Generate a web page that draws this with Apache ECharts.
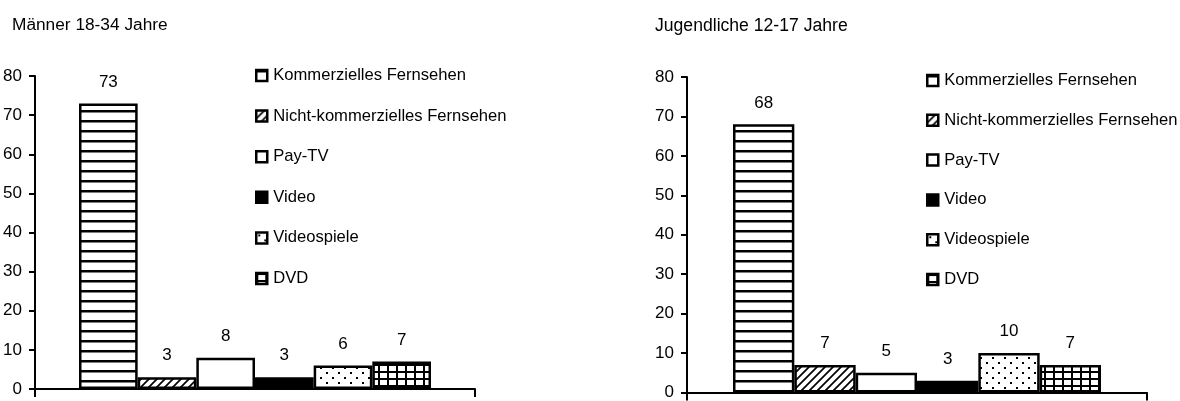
<!DOCTYPE html>
<html>
<head>
<meta charset="utf-8">
<script src="https://cdn.jsdelivr.net/npm/echarts@6/dist/echarts.min.js"></script>
<style>
html,body{margin:0;padding:0;background:#fff;}
#chart{width:1180px;height:401px;}
</style>
</head>
<body>
<div id="chart"></div>
<script>
const categories = ['Kommerzielles Fernsehen','Nicht-kommerzielles Fernsehen','Pay-TV','Video','Videospiele','DVD'];
const menValues = [73, 3, 8, 3, 6, 7];
const teenValues = [68, 7, 5, 3, 10, 7];
const titles = ['Männer 18-34 Jahre', 'Jugendliche 12-17 Jahre'];
const yTicks = [0, 10, 20, 30, 40, 50, 60, 70, 80];

const FONT = '"Liberation Sans", Arial, sans-serif';

function tile(w, h, draw) {
  const c = document.createElement('canvas');
  c.width = w; c.height = h;
  const g = c.getContext('2d');
  g.fillStyle = '#fff'; g.fillRect(0, 0, w, h);
  g.fillStyle = '#000'; g.strokeStyle = '#000';
  draw(g, w, h);
  return { image: c, repeat: 'repeat' };
}
const fills = [
  tile(10, 10, g => { g.fillRect(0, 0, 10, 2.5); }),
  tile(8, 8, g => {
    g.lineWidth = 1.7;
    g.beginPath();
    g.moveTo(-2, 10); g.lineTo(10, -2);
    g.moveTo(-2, 2); g.lineTo(2, -2);
    g.moveTo(6, 10); g.lineTo(10, 6);
    g.stroke();
  }),
  '#ffffff',
  '#000000',
  tile(12, 10, g => { g.fillRect(2, 2, 2, 2); g.fillRect(8, 7, 2, 2); }),
  tile(9, 7, g => { g.fillRect(0, 0, 9, 2); g.fillRect(0, 0, 2, 7); })
];

function makeSeries(values, idx) {
  return categories.map((name, i) => ({
    name: name,
    type: 'bar',
    xAxisIndex: idx,
    yAxisIndex: idx,
    barGap: '0%',
    barCategoryGap: '20%',
    data: [values[i]],
    itemStyle: { color: fills[i], borderColor: '#000', borderWidth: 2.5 },
    label: { show: true, position: 'top', distance: 13, color: '#000', fontSize: 17, fontFamily: FONT },
    emphasis: { disabled: true }
  }));
}

function yAxis(idx) {
  return {
    type: 'value', gridIndex: idx, min: 0, max: 80, interval: 10,
    axisLine: { show: true, lineStyle: { color: '#000', width: 2 } },
    axisTick: { show: true, inside: false, length: 6, lineStyle: { color: '#000', width: 2 } },
    splitLine: { show: false },
    axisLabel: { color: '#000', fontSize: 17, fontFamily: FONT, margin: 13,
      customValues: yTicks }
  };
}
function xAxis(idx, off) {
  return {
    type: 'category', gridIndex: idx, data: [''], offset: off,
    axisLine: { show: true, lineStyle: { color: '#000', width: 2 } },
    axisTick: { show: true, length: 8, lineStyle: { color: '#000', width: 2 } },
    axisLabel: { show: false }
  };
}
function legend(left, top, gap) {
  return {
    orient: 'vertical', left: left, top: top, padding: 0,
    itemWidth: 11, itemHeight: 11, itemGap: gap,
    icon: 'rect', selectedMode: false,
    itemStyle: { borderColor: '#000', borderWidth: 2.5 },
    textStyle: { color: '#000', fontSize: 16.6, fontFamily: FONT, lineHeight: 16, padding: [0, 0, 0, 1] },
    data: categories
  };
}

const chart = echarts.init(document.getElementById('chart'), null, { renderer: 'canvas' });
chart.setOption({
  animation: false,
  backgroundColor: '#fff',
  title: [
    { text: titles[0], left: 12, top: 17, padding: 0, textStyle: { color: '#000', fontSize: 17.3, fontWeight: 'normal', fontFamily: FONT } },
    { text: titles[1], left: 655, top: 17, padding: 0, textStyle: { color: '#000', fontSize: 17.6, fontWeight: 'normal', fontFamily: FONT } }
  ],
  legend: [legend(255, 67, 23.6), legend(926, 72, 22.8)],
  grid: [
    { left: 35, top: 76, width: 440, height: 313, containLabel: false },
    { left: 687, top: 77, width: 460, height: 318, containLabel: false }
  ],
  xAxis: [xAxis(0, 4), xAxis(1, 1)],
  yAxis: [yAxis(0), yAxis(1)],
  series: makeSeries(menValues, 0).concat(makeSeries(teenValues, 1))
});
</script>
</body>
</html>
